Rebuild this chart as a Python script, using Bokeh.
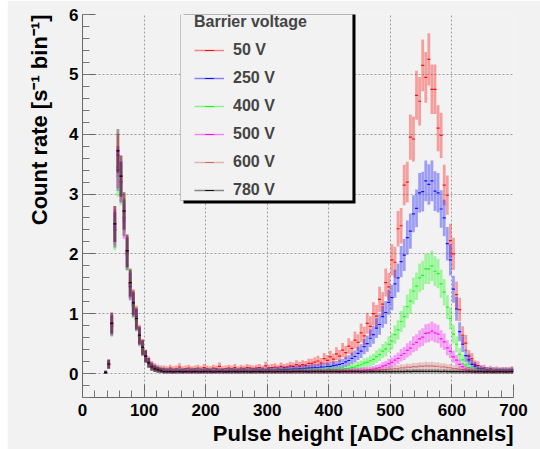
import math
import numpy as np
from bokeh.plotting import figure
from bokeh.models import (ColumnDataSource, FixedTicker, Legend, LegendItem,
                          BoxAnnotation, Range1d, Spacer, Title)
from bokeh.layouts import row
from bokeh.embed import file_html
from bokeh.resources import INLINE

# ---------------- data (count rate per 5-channel bin) ----------------
bin_centers = np.arange(37.5, 700, 5)          # 133 bins, 35..700 ADC channels
bin_width = 5.0

voltages = ["50 V", "250 V", "400 V", "500 V", "600 V", "780 V"]
colors = ["#ff0000", "#0000ff", "#00ff00", "#ff00ff", "#cc6666", "#000000"]

rate_50V = [
    0.02, 0.16, 0.85, 2.5, 3.65, 3.3, 2.7, 2.05, 1.5, 1.2, 0.95, 0.66, 0.45, 0.3, 0.2, 0.14, 0.11, 0.09, 0.08,
    0.08, 0.07, 0.09, 0.07, 0.08, 0.11, 0.07, 0.08, 0.09, 0.07,
    0.08, 0.09, 0.07, 0.1, 0.08, 0.07, 0.09, 0.08, 0.12, 0.07,
    0.08, 0.09, 0.08, 0.1, 0.07, 0.09, 0.08, 0.1, 0.09, 0.08,
    0.09, 0.1, 0.08, 0.13, 0.09, 0.1, 0.11, 0.09, 0.12, 0.1,
    0.11, 0.13, 0.12, 0.15, 0.13, 0.15, 0.14, 0.17, 0.17, 0.19,
    0.21, 0.18, 0.25, 0.22, 0.28, 0.24, 0.33, 0.29, 0.39, 0.35,
    0.46, 0.42, 0.56, 0.52, 0.68, 0.63, 0.84, 0.79, 1.0, 0.96,
    1.24, 1.16, 1.52, 1.45, 1.9, 1.86, 2.42, 2.47, 3.15, 3.2,
    3.95, 3.92, 4.65, 4.55, 5.15, 4.95, 5.25, 4.75, 4.75, 4.1,
    3.98, 3.15, 2.98, 2.22, 2.0, 1.32, 1.07, 0.64, 0.51, 0.29,
    0.25, 0.15, 0.135, 0.085, 0.09, 0.06, 0.078, 0.055, 0.068, 0.052,
    0.062, 0.058, 0.056, 0.07,
]
rate_250V = [
    0.02, 0.15, 0.8, 2.4, 3.4, 3.2, 2.6, 2.0, 1.45, 1.15, 0.9, 0.62, 0.42, 0.28, 0.18, 0.12, 0.09, 0.07, 0.06,
    0.055, 0.05, 0.052, 0.047, 0.05, 0.054, 0.049, 0.051, 0.05, 0.053,
    0.05, 0.047, 0.052, 0.05, 0.052, 0.048, 0.05, 0.054, 0.05, 0.051,
    0.05, 0.053, 0.049, 0.054, 0.051, 0.053, 0.055, 0.052, 0.056, 0.054,
    0.057, 0.055, 0.059, 0.057, 0.061, 0.059, 0.063, 0.065, 0.066, 0.07,
    0.071, 0.073, 0.077, 0.078, 0.082, 0.084, 0.088, 0.09, 0.096, 0.098,
    0.1, 0.108, 0.11, 0.118, 0.12, 0.133, 0.14, 0.155, 0.168, 0.195,
    0.218, 0.255, 0.285, 0.338, 0.375, 0.45, 0.5, 0.59, 0.65, 0.76,
    0.82, 0.95, 1.02, 1.19, 1.27, 1.5, 1.6, 1.87, 1.98, 2.27,
    2.38, 2.67, 2.76, 3.02, 3.04, 3.22, 3.16, 3.22, 3.05, 3.02,
    2.75, 2.6, 2.17, 1.9, 1.41, 1.08, 0.7, 0.49, 0.3, 0.23,
    0.155, 0.125, 0.088, 0.078, 0.063, 0.062, 0.056, 0.058, 0.054, 0.056,
    0.054, 0.056, 0.055, 0.06,
]
rate_400V = [
    0.02, 0.15, 0.78, 2.35, 3.3, 3.15, 2.6, 1.98, 1.5, 1.12, 0.88, 0.6, 0.41, 0.27, 0.17, 0.11, 0.08, 0.065, 0.055,
    0.048, 0.045, 0.047, 0.044, 0.046, 0.045, 0.048, 0.044, 0.046, 0.045,
    0.047, 0.044, 0.046, 0.045, 0.047, 0.045, 0.044, 0.046, 0.045, 0.047,
    0.045, 0.046, 0.044, 0.047, 0.045, 0.046, 0.045, 0.047, 0.046, 0.045,
    0.047, 0.046, 0.048, 0.046, 0.047, 0.048, 0.047, 0.049, 0.048, 0.05,
    0.049, 0.05, 0.051, 0.05, 0.052, 0.051, 0.053, 0.052, 0.054, 0.054,
    0.055, 0.057, 0.057, 0.061, 0.061, 0.065, 0.066, 0.071, 0.074, 0.082,
    0.088, 0.102, 0.108, 0.132, 0.147, 0.173, 0.186, 0.214, 0.236, 0.284,
    0.315, 0.376, 0.412, 0.49, 0.54, 0.65, 0.73, 0.87, 0.95, 1.12,
    1.21, 1.38, 1.46, 1.6, 1.64, 1.75, 1.75, 1.8, 1.71, 1.67,
    1.5, 1.36, 1.11, 0.92, 0.66, 0.49, 0.32, 0.23, 0.145, 0.102,
    0.073, 0.062, 0.049, 0.049, 0.045, 0.046, 0.044, 0.046, 0.044, 0.046,
    0.044, 0.046, 0.045, 0.05,
]
rate_500V = [
    0.02, 0.16, 0.82, 2.45, 3.45, 3.2, 2.55, 2.02, 1.48, 1.16, 0.9, 0.63, 0.43, 0.28, 0.18, 0.12, 0.085, 0.065, 0.05,
    0.042, 0.04, 0.041, 0.039, 0.04, 0.042, 0.039, 0.04, 0.041, 0.04,
    0.039, 0.041, 0.04, 0.042, 0.04, 0.039, 0.041, 0.04, 0.042, 0.04,
    0.041, 0.039, 0.04, 0.042, 0.04, 0.041, 0.039, 0.041, 0.04, 0.042,
    0.04, 0.041, 0.04, 0.042, 0.04, 0.041, 0.04, 0.042, 0.041, 0.04,
    0.041, 0.04, 0.042, 0.041, 0.04, 0.042, 0.041, 0.04, 0.042, 0.041,
    0.04, 0.041, 0.041, 0.042, 0.042, 0.043, 0.043, 0.045, 0.045, 0.047,
    0.047, 0.049, 0.05, 0.053, 0.055, 0.059, 0.062, 0.068, 0.074, 0.087,
    0.098, 0.123, 0.138, 0.165, 0.186, 0.226, 0.255, 0.306, 0.335, 0.388,
    0.425, 0.49, 0.52, 0.58, 0.61, 0.67, 0.68, 0.71, 0.68, 0.66,
    0.58, 0.53, 0.43, 0.37, 0.28, 0.225, 0.155, 0.115, 0.075, 0.062,
    0.044, 0.043, 0.04, 0.041, 0.039, 0.041, 0.04, 0.041, 0.039, 0.041,
    0.04, 0.041, 0.04, 0.045,
]
rate_600V = [
    0.02, 0.15, 0.8, 2.4, 3.45, 3.2, 2.62, 2.0, 1.5, 1.15, 0.9, 0.62, 0.42, 0.28, 0.17, 0.11, 0.08, 0.06, 0.05,
    0.036, 0.034, 0.035, 0.033, 0.035, 0.036, 0.034, 0.035, 0.033, 0.035,
    0.034, 0.036, 0.035, 0.034, 0.033, 0.035, 0.036, 0.034, 0.035, 0.034,
    0.035, 0.033, 0.036, 0.035, 0.034, 0.035, 0.033, 0.035, 0.036, 0.034,
    0.035, 0.034, 0.036, 0.033, 0.035, 0.034, 0.035, 0.036, 0.034, 0.035,
    0.034, 0.035, 0.036, 0.034, 0.035, 0.033, 0.035, 0.036, 0.034, 0.035,
    0.035, 0.036, 0.035, 0.037, 0.036, 0.038, 0.037, 0.04, 0.039, 0.041,
    0.04, 0.043, 0.042, 0.046, 0.044, 0.049, 0.048, 0.053, 0.052, 0.059,
    0.058, 0.066, 0.066, 0.075, 0.074, 0.085, 0.084, 0.095, 0.094, 0.106,
    0.104, 0.116, 0.113, 0.124, 0.12, 0.13, 0.124, 0.13, 0.12, 0.122,
    0.11, 0.111, 0.098, 0.097, 0.085, 0.083, 0.07, 0.068, 0.056, 0.054,
    0.046, 0.044, 0.039, 0.038, 0.036, 0.036, 0.035, 0.035, 0.034, 0.036,
    0.035, 0.034, 0.035, 0.036,
]
rate_780V = [
    0.02, 0.16, 0.84, 2.5, 3.72, 3.3, 2.72, 2.05, 1.52, 1.18, 0.92, 0.64, 0.44, 0.29, 0.18, 0.11, 0.08, 0.06, 0.045,
    0.032, 0.03, 0.031, 0.029, 0.03, 0.032, 0.029, 0.031, 0.03, 0.029,
    0.031, 0.03, 0.029, 0.032, 0.03, 0.031, 0.029, 0.03, 0.031, 0.03,
    0.029, 0.031, 0.03, 0.032, 0.029, 0.03, 0.031, 0.03, 0.029, 0.031,
    0.03, 0.032, 0.029, 0.03, 0.031, 0.03, 0.029, 0.031, 0.03, 0.032,
    0.03, 0.029, 0.031, 0.03, 0.032, 0.03, 0.031, 0.029, 0.03, 0.031,
    0.03, 0.031, 0.029, 0.03, 0.032, 0.03, 0.031, 0.029, 0.03, 0.031,
    0.03, 0.032, 0.03, 0.031, 0.029, 0.031, 0.03, 0.032, 0.031, 0.03,
    0.032, 0.031, 0.033, 0.032, 0.031, 0.033, 0.032, 0.034, 0.033, 0.035,
    0.034, 0.036, 0.035, 0.036, 0.035, 0.037, 0.036, 0.036, 0.035, 0.036,
    0.034, 0.035, 0.033, 0.034, 0.032, 0.033, 0.031, 0.032, 0.03, 0.031,
    0.03, 0.029, 0.031, 0.03, 0.029, 0.031, 0.03, 0.029, 0.03, 0.031,
    0.03, 0.029, 0.03, 0.032,
]
series = [rate_50V, rate_250V, rate_400V, rate_500V, rate_600V, rate_780V]

x_major = [0, 100, 200, 300, 400, 500, 600, 700]
x_minor = list(range(0, 701, 20))
y_major = [0, 1, 2, 3, 4, 5, 6]
y_minor = [round(-0.4 + 0.2 * i, 1) for i in range(33)]

x_title = "Pulse height [ADC channels]"
y_title = "Count rate [s\u207b\u00b9 bin\u207b\u00b9]"
legend_title = "Barrier voltage"

# ---------------- figure ----------------
BG = "#f2f2f2"
FONT = "Liberation Sans"
NAN = float("nan")
LEFT_WHITE = 7

p = figure(width=540 - LEFT_WHITE, height=449, x_range=Range1d(0, 700), y_range=Range1d(-0.4, 6.0),
           output_backend="svg", toolbar_location=None,
           min_border_left=82 - LEFT_WHITE, min_border_right=27, min_border_top=14,
           min_border_bottom=52,
           background_fill_color=BG, border_fill_color=BG)
p.outline_line_color = None

p.xaxis.ticker = FixedTicker(ticks=x_major, minor_ticks=x_minor)
p.yaxis.ticker = FixedTicker(ticks=y_major, minor_ticks=y_minor)
for ax in (p.xaxis[0], p.yaxis[0]):
    ax.major_tick_in = 13
    ax.major_tick_out = 0
    ax.minor_tick_in = 7
    ax.minor_tick_out = 0
    ax.axis_line_color = "#666666"
    ax.major_tick_line_color = "#666666"
    ax.minor_tick_line_color = "#777777"
    ax.major_label_text_font = FONT
    ax.major_label_text_font_style = "bold"
    ax.major_label_text_font_size = "17px"
    ax.major_label_text_color = "#000000"
p.xaxis.major_label_standoff = 6
p.yaxis.major_label_standoff = 4

# axis titles, right-aligned as in ROOT
p.add_layout(Title(text=x_title, align="right", text_font=FONT, text_font_style="bold",
                   text_font_size="22px", text_color="#000000", standoff=0, offset=0), "below")
p.add_layout(Title(text=y_title, align="right", text_font=FONT, text_font_style="bold",
                   text_font_size="22px", text_color="#000000", standoff=30, offset=0), "left")

for g in (p.xgrid[0], p.ygrid[0]):
    g.grid_line_color = "#a0a0a0"
    g.grid_line_dash = "2 2"
    g.grid_line_width = 1

legend_items = []
for label, vals, color in zip(voltages, series, colors):
    v = np.array(vals, dtype=float)
    assert len(v) == len(bin_centers)
    err = 0.19 * np.sqrt(v)
    src = ColumnDataSource(dict(x=bin_centers, x0=bin_centers - bin_width / 2,
                                x1=bin_centers + bin_width / 2, y=v, lo=v - err, hi=v + err))
    p.segment(x0="x", y0="lo", x1="x", y1="hi", source=src,
              line_color=color, line_alpha=0.35, line_width=2.8)
    p.segment(x0="x0", y0="y", x1="x1", y1="y", source=src,
              line_color=color, line_alpha=0.9, line_width=1.2)
    # legend-only proxies (NaN position, so nothing is drawn in the plot area)
    r_leg_h = p.segment(x0=[NAN], y0=[NAN], x1=[NAN], y1=[NAN], line_color=color,
                        line_alpha=0.45, line_width=1.5)
    r_leg_v = p.scatter(x=[NAN], y=[NAN], marker="dash", angle=math.pi / 2, size=10,
                        line_color=color, line_alpha=0.9, line_width=1)
    legend_items.append(LegendItem(label=label, renderers=[r_leg_h, r_leg_v]))

# legend frame with shadow (ROOT style)
shadow = BoxAnnotation(left=101, right=273, top=395, bottom=194,
                       left_units="screen", right_units="screen",
                       top_units="screen", bottom_units="screen",
                       fill_color="#000000", fill_alpha=1.0, line_color=None)
box = BoxAnnotation(left=98, right=270, top=395, bottom=197,
                    left_units="screen", right_units="screen",
                    top_units="screen", bottom_units="screen",
                    fill_color=BG, fill_alpha=1.0, line_color="#555555", line_width=1)
p.add_layout(shadow)
p.add_layout(box)

legend = Legend(items=legend_items, location=(112, 196), title=legend_title,
                padding=16, margin=0, spacing=6, glyph_width=30, glyph_height=22,
                label_height=22, label_standoff=9, title_standoff=8,
                border_line_color=None, background_fill_alpha=0.0)
legend.title_text_font = FONT
legend.title_text_font_style = "bold"
legend.title_text_font_size = "16px"
legend.label_text_font = FONT
legend.label_text_font_style = "bold"
legend.label_text_font_size = "16px"
p.add_layout(legend)

layout = row(Spacer(width=LEFT_WHITE, height=449), p, spacing=0)
open("out.html", "w").write(file_html(layout, INLINE))
